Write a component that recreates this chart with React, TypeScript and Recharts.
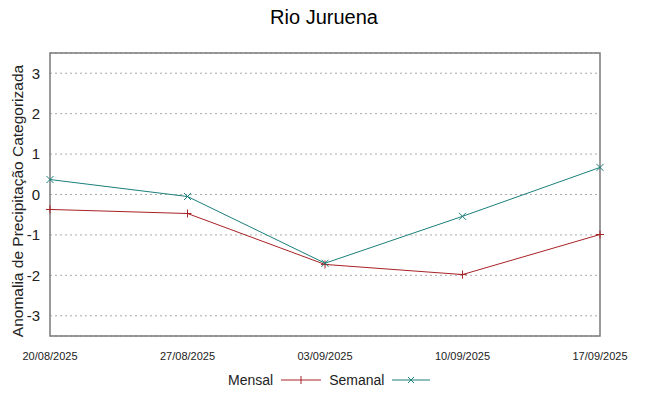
import React from 'react';
import { LineChart, Line, XAxis, YAxis, CartesianGrid, ReferenceArea } from 'recharts';

const dates = ['20/08/2025', '27/08/2025', '03/09/2025', '10/09/2025', '17/09/2025'];
const mensal = [-0.37, -0.47, -1.73, -1.98, -0.99];
const semanal = [0.37, -0.05, -1.7, -0.54, 0.67];
const yTicks = [-3, -2, -1, 0, 1, 2, 3];

const redColor = '#a82226';
const tealColor = '#1b7f7b';
const font = '"Liberation Sans", Arial, sans-serif';

const PlusDot = (props: any) => {
  const { cx, cy } = props;
  if (cx == null || cy == null) return null;
  return (
    <g stroke={redColor} strokeWidth={1}>
      <line x1={cx - 4} y1={cy} x2={cx + 4} y2={cy} />
      <line x1={cx} y1={cy - 4} x2={cx} y2={cy + 4} />
    </g>
  );
};

const CrossDot = (props: any) => {
  const { cx, cy } = props;
  if (cx == null || cy == null) return null;
  return (
    <g stroke={tealColor} strokeWidth={1}>
      <line x1={cx - 3.5} y1={cy - 3.5} x2={cx + 3.5} y2={cy + 3.5} />
      <line x1={cx - 3.5} y1={cy + 3.5} x2={cx + 3.5} y2={cy - 3.5} />
    </g>
  );
};

export default function App() {
  const chartData = dates.map((d, i) => ({ date: d, mensal: mensal[i], semanal: semanal[i] }));

  return (
    <div style={{ position: 'absolute', left: 0, top: 0, width: 648, height: 396, background: '#fff', fontFamily: font }}>
      <div style={{ position: 'absolute', top: 6, width: 648, textAlign: 'center', fontSize: 20, color: '#000' }}>
        Rio Juruena
      </div>
      <div
        style={{
          position: 'absolute', left: 18, top: 201, transform: 'translate(-50%, -50%) rotate(-90deg)',
          whiteSpace: 'nowrap', fontSize: 15.5, color: '#222',
        }}
      >
        Anomalia de Precipitação Categorizada
      </div>
      <LineChart width={648} height={396} data={chartData} margin={{ top: 53, right: 48, bottom: 30, left: 0 }}>
        <CartesianGrid vertical={false} stroke="#aaa" strokeDasharray="2 3" />
        <XAxis
          dataKey="date"
          axisLine={false}
          tickLine={false}
          tickMargin={10}
          height={30}
          interval={0}
          tick={{ fontSize: 11, fill: '#222', fontFamily: font }}
        />
        <YAxis
          type="number"
          domain={[-3.5, 3.5]}
          ticks={yTicks}
          width={50}
          axisLine={false}
          tickLine={false}
          tickMargin={4}
          tick={{ fontSize: 15, fill: '#222', fontFamily: font }}
        />
        <ReferenceArea
          x1={dates[0]}
          x2={dates[dates.length - 1]}
          y1={-3.5}
          y2={3.5}
          fill="none"
          fillOpacity={0}
          stroke="#7a7a7a"
          strokeWidth={1.5}
          ifOverflow="visible"
        />
        <Line
          dataKey="mensal"
          stroke={redColor}
          strokeWidth={1}
          dot={<PlusDot />}
          activeDot={false}
          isAnimationActive={false}
        />
        <Line
          dataKey="semanal"
          stroke={tealColor}
          strokeWidth={1}
          dot={<CrossDot />}
          activeDot={false}
          isAnimationActive={false}
        />
      </LineChart>
      <div style={{ position: 'absolute', top: 372, left: 228, fontSize: 14, color: '#222', display: 'flex', alignItems: 'center' }}>
        <span>Mensal</span>
        <svg width={48} height={12} style={{ marginLeft: 6 }}>
          <line x1={2} y1={6} x2={42} y2={6} stroke={redColor} strokeWidth={1} />
          <line x1={22} y1={2} x2={22} y2={10} stroke={redColor} strokeWidth={1} />
        </svg>
        <span style={{ marginLeft: 2 }}>Semanal</span>
        <svg width={48} height={12} style={{ marginLeft: 6 }}>
          <line x1={2} y1={6} x2={40} y2={6} stroke={tealColor} strokeWidth={1} />
          <line x1={18} y1={3} x2={24} y2={9} stroke={tealColor} strokeWidth={1} />
          <line x1={18} y1={9} x2={24} y2={3} stroke={tealColor} strokeWidth={1} />
        </svg>
      </div>
    </div>
  );
}
